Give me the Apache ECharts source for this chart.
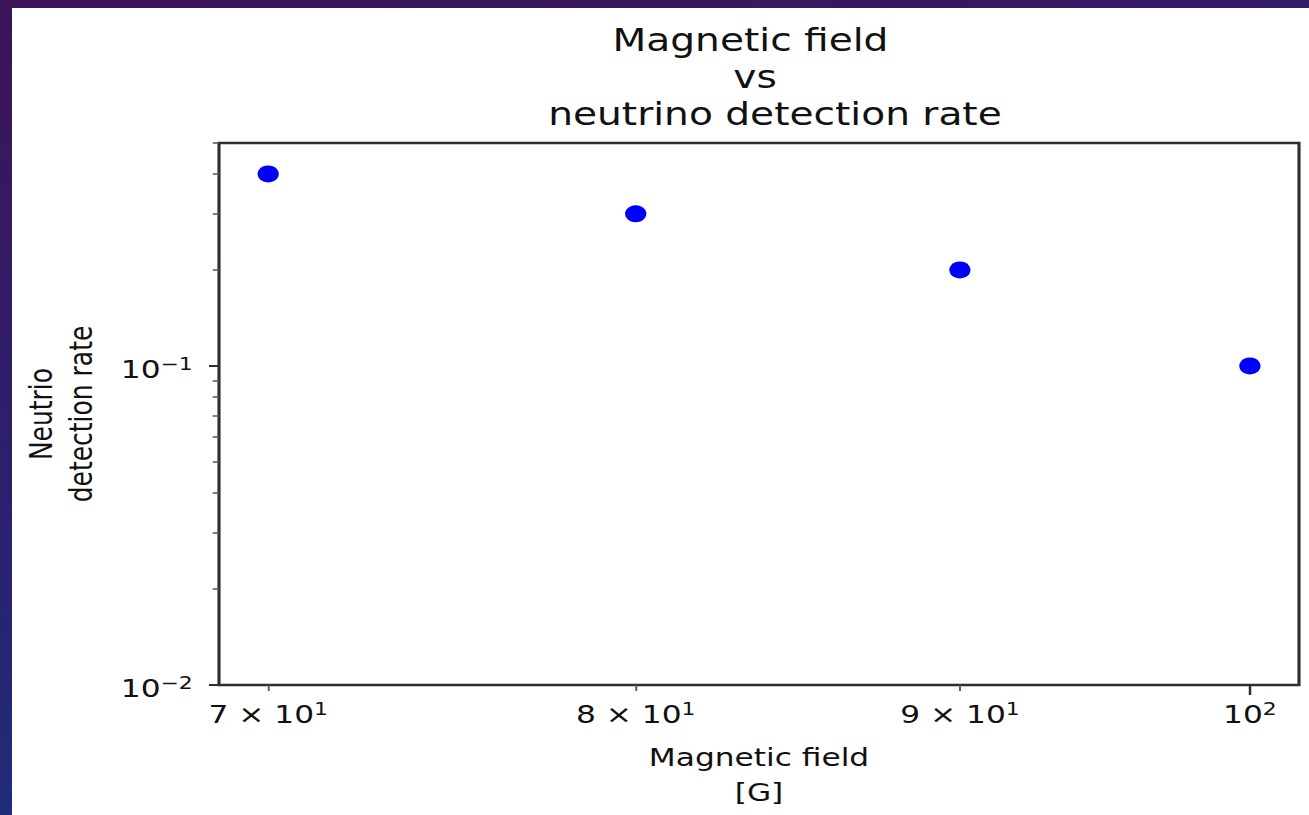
<!DOCTYPE html>
<html>
<head>
<meta charset="utf-8">
<script src="https://cdn.jsdelivr.net/npm/echarts@6/dist/echarts.min.js"></script>
<style>
html, body { margin: 0; padding: 0; width: 1309px; height: 815px; overflow: hidden; background: #2b1d68; }
/* the reference picture is stretched horizontally; reproduce that stretch */
#chart { position: absolute; left: 0; top: 0; width: 1048px; height: 815px; transform: scaleX(1.25); transform-origin: 0 0; }
</style>
</head>
<body>
<div id="chart"></div>
<script>
// ---- data ----
const magneticField = [70, 80, 90, 100];
const detectionRate = [0.4, 0.3, 0.2, 0.1];

// ---- tick values and labels (base text + superscript exponent) ----
const xTickValues = [70, 80, 90, 100];
const xTickBase = ['7 × 10', '8 × 10', '9 × 10', '10'];
const xTickExp = ['1', '1', '1', '2'];
const xMinorTicks = [70, 80, 90];
const xMajorTicks = [100];
const yTickValues = [0.01, 0.1];
const yTickBase = ['10', '10'];
const yTickExp = ['−2', '−1'];
const yMinorTicks = [0.02, 0.03, 0.04, 0.05, 0.06, 0.07, 0.08, 0.09, 0.2, 0.3, 0.4, 0.5];

// ---- texts ----
const titleLines = ['Magnetic field', 'vs', 'neutrino detection rate'];
const xAxisNameLines = ['Magnetic field', '[G]'];
const yAxisNameLines = ['Neutrio', 'detection rate'];

// ---- axis ranges ----
const xRange = [68.76, 101.8];
const yRange = [0.01, 0.5];

const FONT = 'DejaVu Sans';
const TEXT = '#111111';
const FRAME = '#2e2e2e';

function lookup(values, bases, exps) {
  return function (v) {
    for (let i = 0; i < values.length; i++) {
      if (Math.abs(v - values[i]) / values[i] < 1e-6) return '{b|' + bases[i] + '}{s|' + exps[i] + '}';
    }
    return '';
  };
}

const richTick = {
  b: { fontFamily: FONT, fontSize: 25, lineHeight: 30, color: TEXT },
  s: { fontFamily: FONT, fontSize: 17.5, lineHeight: 18, verticalAlign: 'top', color: TEXT }
};

const chart = echarts.init(document.getElementById('chart'), null, { renderer: 'svg' });

const SX = 1.25;
const plotLeft = 175.2, plotTop = 143, plotRight = 8.8, plotBottom = 129;
// measured centres of the three title lines (in page pixels) and their tops
const titleCentersPx = [750.5, 755, 775];
const titleTops = [21.5, 58.5, 95.5];

const option = {
  animation: false,
  backgroundColor: {
    type: 'linear', x: 0, y: 0, x2: 0.3, y2: 1,
    colorStops: [
      { offset: 0, color: '#3d1458' },
      { offset: 0.5, color: '#2d1e6c' },
      { offset: 1, color: '#1e2f7a' }
    ]
  },
  graphic: [{
    type: 'rect', left: 9.6, top: 8, z: -10, silent: true,
    shape: { width: 1048, height: 820 },
    style: { fill: '#ffffff' }
  }],
  title: titleLines.map((t, i) => ({
    text: t,
    left: titleCentersPx[i] / SX, top: titleTops[i], textAlign: 'center', padding: 0,
    textStyle: { fontFamily: FONT, fontSize: 31.3, lineHeight: 37, fontWeight: 'normal', color: TEXT }
  })),
  grid: {
    left: plotLeft, top: plotTop, right: plotRight, bottom: plotBottom,
    show: true, backgroundColor: '#ffffff', borderColor: FRAME, borderWidth: 2.5
  },
  xAxis: [{
    type: 'log', min: xRange[0], max: xRange[1], position: 'bottom',
    axisLine: { show: false }, splitLine: { show: false }, minorTick: { show: false },
    axisTick: { show: true, customValues: xMinorTicks, length: 6, lineStyle: { color: '#555555', width: 1.5 } },
    axisLabel: {
      show: true, customValues: xTickValues, formatter: lookup(xTickValues, xTickBase, xTickExp),
      margin: 15, rich: richTick
    },
    name: xAxisNameLines.join('\n'), nameLocation: 'middle', nameGap: 55,
    nameTextStyle: { fontFamily: FONT, fontSize: 25, lineHeight: 35, color: TEXT }
  }, {
    type: 'log', min: xRange[0], max: xRange[1], position: 'bottom',
    axisLine: { show: false }, splitLine: { show: false }, axisLabel: { show: false },
    axisTick: { show: true, customValues: xMajorTicks, length: 10, lineStyle: { color: FRAME, width: 2 } }
  }],
  yAxis: [{
    type: 'log', min: yRange[0], max: yRange[1], position: 'left',
    axisLine: { show: false }, splitLine: { show: false },
    axisTick: { show: true, customValues: yTickValues, length: 8, lineStyle: { color: FRAME, width: 2 } },
    axisLabel: {
      show: true, customValues: yTickValues, formatter: lookup(yTickValues, yTickBase, yTickExp),
      margin: 21, padding: [8, 0, 0, 0], rich: richTick
    },
    name: yAxisNameLines.join('\n'), nameLocation: 'middle', nameGap: 94,
    nameTextStyle: { fontFamily: FONT, fontSize: 25, lineHeight: 32, color: TEXT }
  }, {
    type: 'log', min: yRange[0], max: yRange[1], position: 'left',
    axisLine: { show: false }, splitLine: { show: false }, axisLabel: { show: false },
    axisTick: { show: true, customValues: yMinorTicks, length: 5, lineStyle: { color: '#555555', width: 1.5 } }
  }],
  series: [{
    type: 'scatter',
    xAxisIndex: 0, yAxisIndex: 0,
    symbol: 'circle', symbolSize: 17,
    itemStyle: { color: '#0000ff', opacity: 1 },
    silent: true,
    data: magneticField.map((x, i) => [x, detectionRate[i]])
  }]
};

chart.setOption(option);
</script>
</body>
</html>
